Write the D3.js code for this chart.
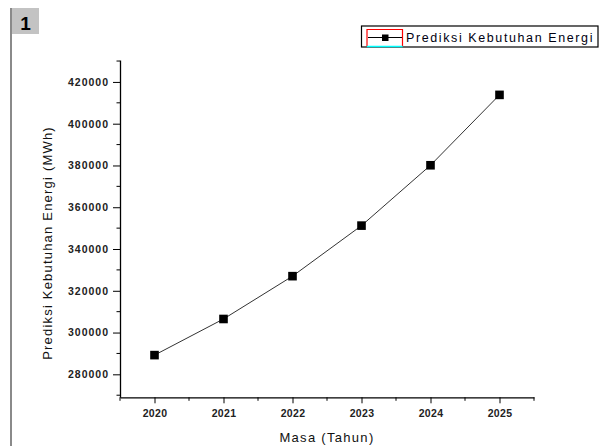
<!DOCTYPE html>
<html>
<head>
<meta charset="utf-8">
<script src="https://cdn.jsdelivr.net/npm/d3@7"></script>
<style>
  body { margin: 0; background: #fff; }
  svg { display: block; font-family: "Liberation Sans", Arial, sans-serif; }
</style>
</head>
<body>
<script>
// data
const years = [2020, 2021, 2022, 2023, 2024, 2025];
const energi = [289200, 306500, 327000, 351200, 380100, 413800];
const yTicks = [280000, 300000, 320000, 340000, 360000, 380000, 400000, 420000];
const seriesName = "Prediksi Kebutuhan Energi";

const width = 603, height = 446;

const svg = d3.select("body").append("svg")
  .attr("width", width)
  .attr("height", height);

// page marker on the left
svg.append("rect").attr("x", 10).attr("y", 8).attr("width", 2).attr("height", height - 8).attr("fill", "#8a8a8a");
svg.append("rect").attr("x", 12).attr("y", 8).attr("width", 27).attr("height", 26).attr("fill", "#c3c3c3");
svg.append("text").attr("x", 25.5).attr("y", 30).attr("text-anchor", "middle")
  .style("font-size", "19px").style("font-weight", "bold").text("1");

// scales
const x = d3.scaleLinear().domain([2019.5, 2025.5]).range([120, 534]);
const y = d3.scaleLinear().domain([269000, 430500]).range([397.3, 60]);

// minor ticks
const xMinor = d3.range(2019.5, 2025.51, 0.5).filter(d => !years.includes(d));
const yMinor = d3.range(270000, 430001, 10000).filter(d => !yTicks.includes(d));

const xAxis = d3.axisBottom(x).tickValues(years).tickFormat(d3.format("d")).tickSize(6).tickSizeOuter(0).tickPadding(6);
const yAxis = d3.axisLeft(y).tickValues(yTicks).tickFormat(d3.format("d")).tickSize(7).tickSizeOuter(0).tickPadding(4);

const gx = svg.append("g").attr("transform", "translate(0,397.3)").call(xAxis);
gx.append("g").selectAll("line").data(xMinor).enter().append("line")
  .attr("x1", d => x(d)).attr("x2", d => x(d)).attr("y1", 0).attr("y2", 3.5)
  .attr("stroke", "#000");

const gy = svg.append("g").attr("transform", "translate(120,0)").call(yAxis);
gy.append("g").selectAll("line").data(yMinor).enter().append("line")
  .attr("y1", d => y(d)).attr("y2", d => y(d)).attr("x1", 0).attr("x2", -3.5)
  .attr("stroke", "#000");

[gx, gy].forEach(g => {
  g.select(".domain").attr("stroke", "#000").attr("stroke-width", 1.3);
  g.selectAll(".tick line").attr("stroke", "#000");
  g.selectAll(".tick text").attr("fill", "#222").style("font-size", "10.5px").style("font-weight", "bold");
});
gx.selectAll(".tick text").style("letter-spacing", "0.3px");
gy.selectAll(".tick text").style("letter-spacing", "1px");

// axis titles
svg.append("text").attr("x", 327).attr("y", 442).attr("text-anchor", "middle")
  .style("font-size", "13px").style("letter-spacing", "1.3px").attr("fill", "#111")
  .text("Masa (Tahun)");

svg.append("text").attr("transform", "translate(52,243) rotate(-90)").attr("text-anchor", "middle")
  .style("font-size", "13px").style("letter-spacing", "1.2px").attr("fill", "#111")
  .text("Prediksi Kebutuhan Energi (MWh)");

// line and markers
const line = d3.line().x((d, i) => x(years[i])).y(d => y(d));

svg.append("path").datum(energi)
  .attr("d", line)
  .attr("fill", "none")
  .attr("stroke", "#333")
  .attr("stroke-width", 1);

svg.selectAll(".pt").data(energi).enter().append("rect")
  .attr("class", "pt")
  .attr("x", (d, i) => x(years[i]) - 4.3)
  .attr("y", d => y(d) - 4.3)
  .attr("width", 8.6).attr("height", 8.6)
  .attr("fill", "#000");

// legend
const lg = svg.append("g");
lg.append("rect").attr("x", 361.5).attr("y", 26).attr("width", 236.5).attr("height", 21)
  .attr("fill", "#fff").attr("stroke", "#000").attr("stroke-width", 1.2);
lg.append("path").attr("d", "M367,46 V29.5 H402.5 V46").attr("fill", "none").attr("stroke", "#f00").attr("stroke-width", 1.2);
lg.append("line").attr("x1", 367).attr("x2", 402.5).attr("y1", 46.5).attr("y2", 46.5).attr("stroke", "#0ff").attr("stroke-width", 1.5);
lg.append("line").attr("x1", 368).attr("x2", 402).attr("y1", 37.5).attr("y2", 37.5).attr("stroke", "#000").attr("stroke-width", 1.2);
lg.append("rect").attr("x", 382).attr("y", 34.5).attr("width", 6.5).attr("height", 6.5).attr("fill", "#000");
lg.append("text").attr("x", 406).attr("y", 42)
  .style("font-size", "12.5px").style("letter-spacing", "1.6px").attr("fill", "#001")
  .text(seriesName);
</script>
</body>
</html>
